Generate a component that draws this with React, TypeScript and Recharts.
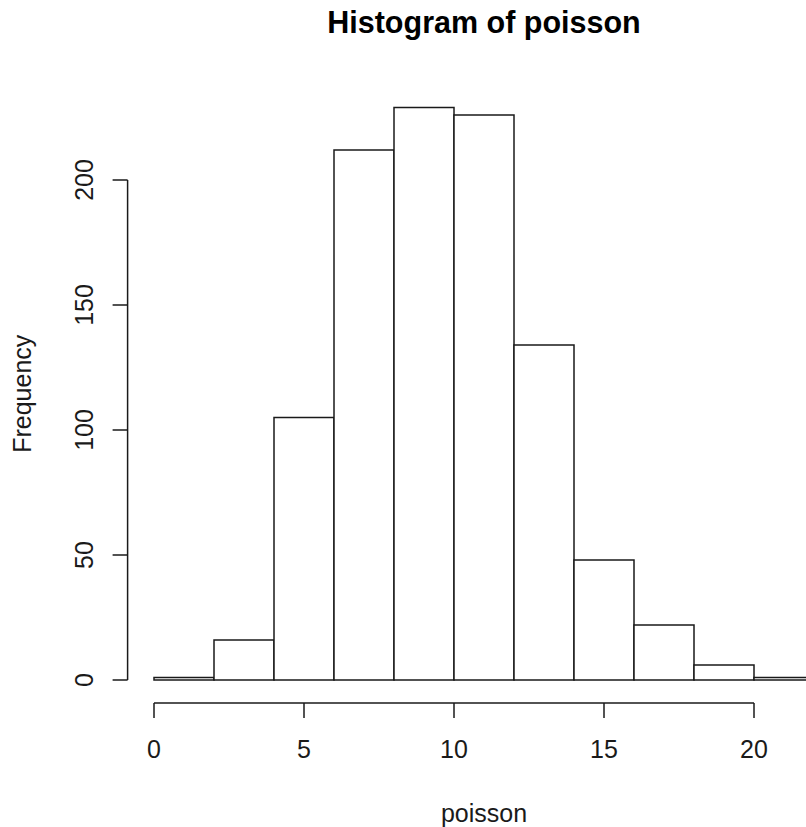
import { BarChart, Bar, XAxis, YAxis, ReferenceLine } from "recharts";

// histogram of poisson: bins of width 2, counts
const binStarts = [0, 2, 4, 6, 8, 10, 12, 14, 16, 18, 20];
const binWidth = 2;
const counts = [1, 16, 105, 212, 229, 226, 134, 48, 22, 6, 1];
const xTicks = [0, 5, 10, 15, 20];
const yTicks = [0, 50, 100, 150, 200];

const FONT = "'Liberation Sans', Arial, sans-serif";
const INK = "#1a1a1a";
const FS = 25;

// R style axis extension: 4% either side
const xLo = binStarts[0];
const xHi = binStarts[binStarts.length - 1] + binWidth;
const xPad = (xHi - xLo) * 0.04;
const yHi = Math.max(...counts);
const yPad = yHi * 0.04;
const xDomain: [number, number] = [xLo - xPad, xHi + xPad];
const yDomain: [number, number] = [-yPad, yHi + yPad];

const data = binStarts.map((s, i) => ({ bin: `${s}-${s + binWidth}`, mid: s + binWidth / 2, count: counts[i] }));

const W = 870;
const H = 827;
const Y_AXIS_W = 60;
const X_AXIS_H = 30;
const margin = { top: 84.6, right: 29.6, bottom: 94.1, left: 67.6 };
const plotW = W - margin.left - Y_AXIS_W - margin.right;
const pxPerUnit = plotW / (xDomain[1] - xDomain[0]);
const bandPad = xPad * pxPerUnit;
const plotLeft = margin.left + Y_AXIS_W;

const XTick = ({ x, y, payload }: any) => (
  <text x={x} y={y} textAnchor="middle" fontSize={FS} fontFamily={FONT} fill={INK}>
    {payload.value}
  </text>
);

const YTick = ({ x, y, payload }: any) => (
  <text x={x} y={y} transform={`rotate(-90 ${x} ${y})`} textAnchor="middle" fontSize={FS} fontFamily={FONT} fill={INK}>
    {payload.value}
  </text>
);

const XLabel = ({ viewBox }: any) => (
  <text x={viewBox.x + viewBox.width / 2} y={viewBox.y + 119} textAnchor="middle" fontSize={FS} fontFamily={FONT} fill={INK}>
    poisson
  </text>
);

const YLabel = ({ viewBox }: any) => {
  const cx = 31;
  const cy = viewBox.y + viewBox.height / 2;
  return (
    <text x={cx} y={cy} transform={`rotate(-90 ${cx} ${cy})`} textAnchor="middle" fontSize={FS} fontFamily={FONT} fill={INK}>
      Frequency
    </text>
  );
};

export default function App() {
  return (
    <div style={{ position: "absolute", left: 0, top: 0, width: 806, height: 827, overflow: "hidden", background: "#fff" }}>
      <BarChart width={W} height={H} data={data} margin={margin} barCategoryGap={0} barGap={0}>
        <XAxis xAxisId="cat" dataKey="bin" orientation="top" height={0} hide padding={{ left: bandPad, right: bandPad }} />
        <XAxis
          xAxisId="num"
          dataKey="mid"
          type="number"
          domain={xDomain}
          allowDataOverflow
          ticks={xTicks}
          height={X_AXIS_H}
          axisLine={false}
          tickLine={{ stroke: INK, strokeWidth: 1.5 }}
          tickSize={15}
          tickMargin={40}
          tick={<XTick />}
          label={XLabel}
        />
        <YAxis
          type="number"
          domain={yDomain}
          allowDataOverflow
          ticks={yTicks}
          width={Y_AXIS_W}
          axisLine={false}
          tickLine={{ stroke: INK, strokeWidth: 1.5 }}
          tickSize={15}
          tickMargin={20}
          tick={<YTick />}
          label={YLabel}
        />
        <Bar xAxisId="cat" dataKey="count" fill="#fff" stroke={INK} strokeWidth={1.5} isAnimationActive={false} />
        {/* axis lines only run from first to last tick, like base R */}
        <ReferenceLine
          xAxisId="num"
          segment={[{ x: xDomain[0], y: yTicks[0] }, { x: xDomain[0], y: yTicks[yTicks.length - 1] }]}
          stroke={INK}
          strokeWidth={1.5}
          ifOverflow="visible"
        />
        <ReferenceLine
          xAxisId="num"
          segment={[{ x: xTicks[0], y: yDomain[0] }, { x: xTicks[xTicks.length - 1], y: yDomain[0] }]}
          stroke={INK}
          strokeWidth={1.5}
          ifOverflow="visible"
        />
      </BarChart>
      <svg width={806} height={827} style={{ position: "absolute", left: 0, top: 0, pointerEvents: "none" }}>
        <text x={plotLeft + plotW / 2} y={33} textAnchor="middle" fontSize={30.5} fontWeight="bold" fontFamily={FONT} fill="#000">
          Histogram of poisson
        </text>
      </svg>
    </div>
  );
}
